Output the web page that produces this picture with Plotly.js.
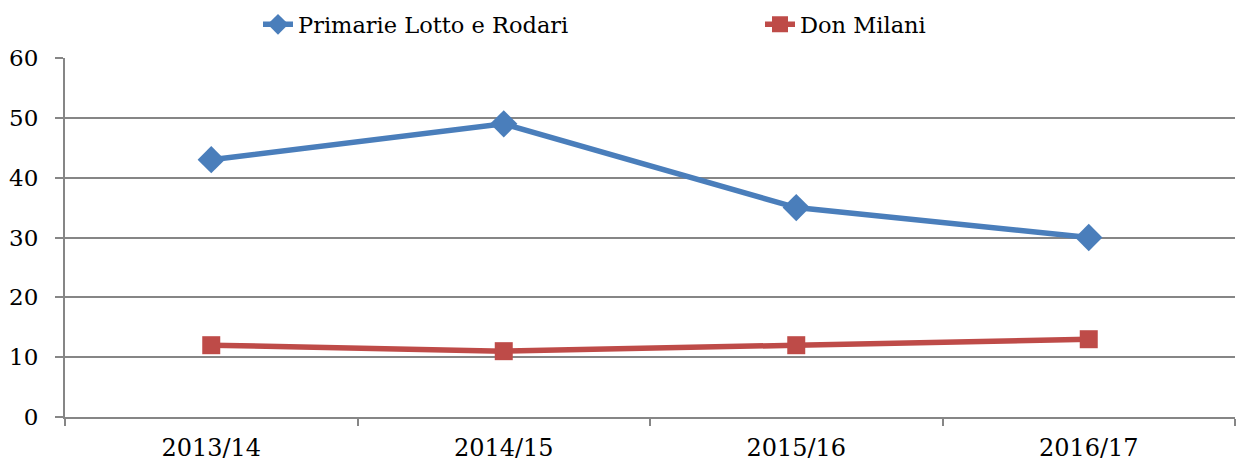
<!DOCTYPE html>
<html>
<head>
<meta charset="utf-8">
<script src="https://cdn.plot.ly/plotly-3.0.1.min.js"></script>
<style>html,body{margin:0;padding:0;background:#fff;}#chart{width:1236px;height:463px;}</style>
</head>
<body>
<div id="chart"></div>
<script>
const categories = ["2013/14", "2014/15", "2015/16", "2016/17"];
const primarieLottoRodari = [43, 49, 35, 30];
const donMilani = [12, 11, 12, 13];
const yTicks = [0, 10, 20, 30, 40, 50, 60];

const fontFamily = "'DejaVu Serif', serif";

const traces = [
  {
    x: categories, y: primarieLottoRodari, name: "Primarie Lotto e Rodari",
    type: "scatter", mode: "lines+markers", legend: "legend",
    line: {color: "#4A7EBB", width: 5.5},
    marker: {symbol: "diamond", size: 21, color: "#4A7EBB"}
  },
  {
    x: categories, y: donMilani, name: "Don Milani",
    type: "scatter", mode: "lines+markers", legend: "legend2",
    line: {color: "#BE4B48", width: 5.5},
    marker: {symbol: "square", size: 18, color: "#BE4B48"}
  }
];

const legendFont = {family: fontFamily, size: 22.5, color: "#000"};

const layout = {
  width: 1236, height: 463,
  margin: {l: 65, r: 1, t: 58, b: 46},
  paper_bgcolor: "#fff", plot_bgcolor: "#fff",
  font: {family: fontFamily, size: 24, color: "#000"},
  showlegend: true,
  legend: {
    orientation: "h", x: 258/1236, xanchor: "left", xref: "container",
    y: 0.993, yanchor: "top", yref: "container",
    font: legendFont, bgcolor: "rgba(0,0,0,0)", itemclick: false
  },
  legend2: {
    orientation: "h", x: 760/1236, xanchor: "left", xref: "container",
    y: 0.993, yanchor: "top", yref: "container",
    font: legendFont, bgcolor: "rgba(0,0,0,0)", itemclick: false
  },
  xaxis: {
    type: "category", range: [-0.5, 3.5],
    showgrid: false, zeroline: false,
    showline: true, linecolor: "#868686", linewidth: 2,
    ticks: "outside", tickson: "boundaries", ticklen: 7, tickcolor: "#868686", tickwidth: 2,
    ticklabelstandoff: 8,
    tickfont: {family: fontFamily, size: 24, color: "#000"}
  },
  yaxis: {
    range: [0, 60], tickvals: yTicks,
    showgrid: true, gridcolor: "#868686", gridwidth: 2,
    zeroline: false,
    showline: true, linecolor: "#868686", linewidth: 2,
    ticks: "outside", ticklen: 8, tickcolor: "#868686", tickwidth: 2,
    ticklabelstandoff: 12,
    tickfont: {family: fontFamily, size: 23, color: "#000"},
    fixedrange: true
  }
};

Plotly.newPlot("chart", traces, layout, {displayModeBar: false, staticPlot: true});
</script>
</body>
</html>
